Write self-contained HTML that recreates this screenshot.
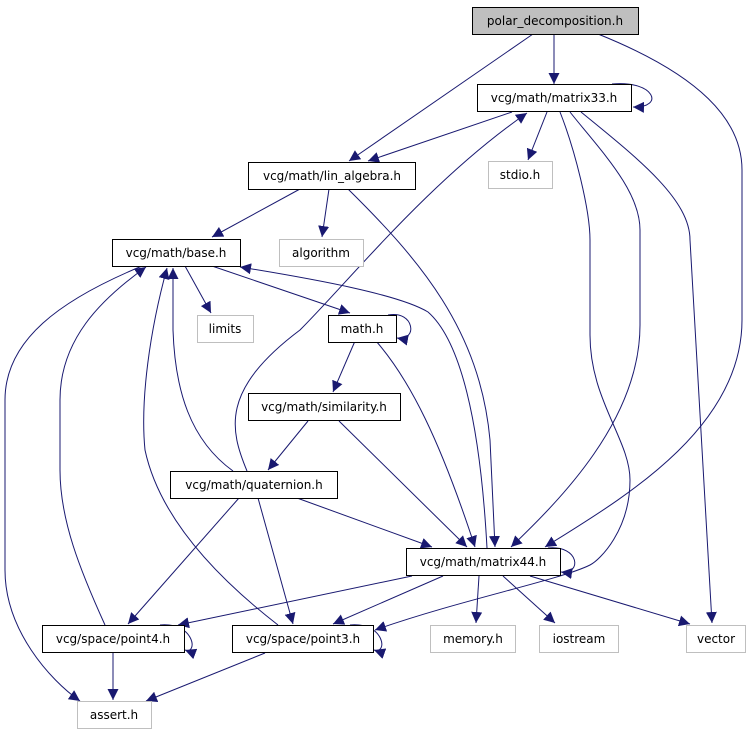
<!DOCTYPE html>
<html><head><meta charset="utf-8"><style>
html,body{margin:0;padding:0;background:#fff;width:751px;height:736px;overflow:hidden}
svg text{font-family:"DejaVu Sans","Liberation Sans",sans-serif;font-size:12px;fill:#000}
</style></head><body>
<svg width="751" height="736" viewBox="0 0 751 736" xmlns="http://www.w3.org/2000/svg">
<defs>
<marker id="a" viewBox="0 0 10 10" refX="10" refY="5" markerWidth="11" markerHeight="11" markerUnits="userSpaceOnUse" orient="auto">
<path d="M0,0 L10,5 L0,10 z" fill="#191970"/>
</marker>
</defs>
<g fill="none" stroke="#191970" stroke-width="1" marker-end="url(#a)">
<path d="M554,34 L554,84"/>
<path d="M533,34 L349,161"/>
<path d="M598,34 C700,75 742,120 742,170 L742,320 C742,430 620,500 545,547"/>
<path d="M612,84 C655,80 665,108 633,107"/>
<path d="M512,112 L368,161"/>
<path d="M547,112 L528,160"/>
<path d="M560,112 C575,150 590,210 590,240 L590,335 C590,400 630,440 630,480 C630,530 600,560 590,565 C560,580 460,600 375,630"/>
<path d="M570,112 C600,150 640,190 640,230 L640,325 C640,420 560,500 511,547"/>
<path d="M581,112 C640,160 690,200 690,240 L712,623"/>
<path d="M300,189 L212,237"/>
<path d="M329,189 L322,237"/>
<path d="M348,189 C420,260 480,330 490,440 L495,547"/>
<path d="M185,266 L211,313"/>
<path d="M212,266 L350,313"/>
<path d="M142,266 C60,300 5,340 5,400 L5,570 C5,630 50,680 80,701"/>
<path d="M388,315 C415,310 418,342 397,338"/>
<path d="M355,341 L333,392"/>
<path d="M376,341 C410,380 440,440 475,547"/>
<path d="M308,421 L268,470"/>
<path d="M339,421 L467,547"/>
<path d="M233,471 C190,440 175,390 173,330 L173,268"/>
<path d="M247,471 C230,430 220,390 300,330 C350,280 430,180 527,113"/>
<path d="M297,498 L432,547"/>
<path d="M239,498 L128,624"/>
<path d="M258,498 L293,624"/>
<path d="M548,548 C580,545 582,575 561,572"/>
<path d="M487,548 C480,420 460,340 428,312 C400,295 320,280 240,267"/>
<path d="M412,576 L178,625"/>
<path d="M443,576 L333,624"/>
<path d="M479,576 L476,623"/>
<path d="M503,576 L555,623"/>
<path d="M530,576 L690,624"/>
<path d="M160,625 C195,622 198,655 185,650"/>
<path d="M113,653 L113,700"/>
<path d="M105,625 C80,570 60,520 60,470 L60,400 C60,340 100,300 146,267"/>
<path d="M278,625 C220,580 160,520 145,450 C140,400 150,330 167,268"/>
<path d="M350,625 C385,622 388,655 374,650"/>
<path d="M265,653 L146,701"/>
</g>
<g stroke-width="1">
<rect x="472.5" y="7.5" width="166" height="27" fill="#bfbfbf" stroke="#000"/>
<rect x="477.5" y="84.5" width="154" height="27" fill="#fff" stroke="#000"/>
<rect x="248.5" y="162.5" width="167" height="27" fill="#fff" stroke="#000"/>
<rect x="488.5" y="161.5" width="64" height="27" fill="#fff" stroke="#bfbfbf"/>
<rect x="112.5" y="239.5" width="128" height="27" fill="#fff" stroke="#000"/>
<rect x="279.5" y="239.5" width="84" height="27" fill="#fff" stroke="#bfbfbf"/>
<rect x="197.5" y="315.5" width="56" height="27" fill="#fff" stroke="#bfbfbf"/>
<rect x="328.5" y="315.5" width="68" height="27" fill="#fff" stroke="#000"/>
<rect x="248.5" y="393.5" width="152" height="27" fill="#fff" stroke="#000"/>
<rect x="170.5" y="471.5" width="167" height="27" fill="#fff" stroke="#000"/>
<rect x="406.5" y="548.5" width="154" height="27" fill="#fff" stroke="#000"/>
<rect x="42.5" y="625.5" width="142" height="27" fill="#fff" stroke="#000"/>
<rect x="232.5" y="625.5" width="141" height="27" fill="#fff" stroke="#000"/>
<rect x="430.5" y="625.5" width="85" height="27" fill="#fff" stroke="#bfbfbf"/>
<rect x="539.5" y="625.5" width="79" height="27" fill="#fff" stroke="#bfbfbf"/>
<rect x="686.5" y="625.5" width="59" height="27" fill="#fff" stroke="#bfbfbf"/>
<rect x="77.5" y="701.5" width="74" height="27" fill="#fff" stroke="#bfbfbf"/>
</g>
<g text-anchor="middle">
<text x="555" y="25">polar_decomposition.h</text>
<text x="554" y="102">vcg/math/matrix33.h</text>
<text x="332" y="180">vcg/math/lin_algebra.h</text>
<text x="520" y="179">stdio.h</text>
<text x="176" y="257">vcg/math/base.h</text>
<text x="321" y="257">algorithm</text>
<text x="225" y="333">limits</text>
<text x="362" y="333">math.h</text>
<text x="324" y="411">vcg/math/similarity.h</text>
<text x="254" y="489">vcg/math/quaternion.h</text>
<text x="483" y="566">vcg/math/matrix44.h</text>
<text x="113" y="643">vcg/space/point4.h</text>
<text x="303" y="643">vcg/space/point3.h</text>
<text x="473" y="643">memory.h</text>
<text x="579" y="643">iostream</text>
<text x="716" y="643">vector</text>
<text x="114" y="719">assert.h</text>
</g>
</svg>
</body></html>
